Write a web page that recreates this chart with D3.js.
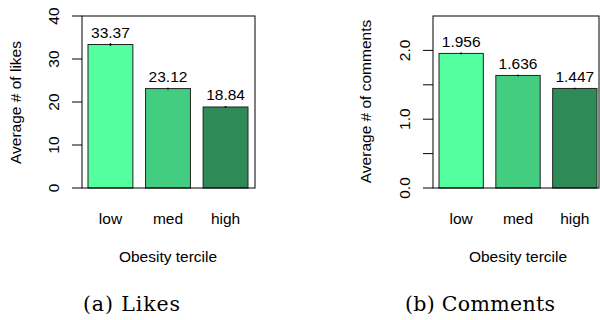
<!DOCTYPE html>
<html><head><meta charset="utf-8">
<script src="https://cdn.jsdelivr.net/npm/d3@7"></script>
<style>body{margin:0;background:#fff}svg{display:block}</style>
</head><body>
<svg id="c" width="600" height="320"></svg>
<script>
const categories = ["low", "med", "high"];
const likes = [33.37, 23.12, 18.84];
const likesErr = [0.3, 0.2, 0.2];
const comments = [1.956, 1.636, 1.447];
const commentsErr = [0.012, 0.01, 0.01];
const likesTicks = [0, 10, 20, 30, 40];
const commentsTicks = [0, 0.5, 1.0, 1.5, 2.0];
const commentsTickLabels = ["0.0", "", "1.0", "", "2.0"];
const colors = ["#54FF9F", "#43CD80", "#2E8B57"];

const svg = d3.select("#c");
const F = "'Liberation Sans', Arial, sans-serif";

function panel(o) {
  const g = svg.append("g");
  const x = d3.scaleBand().domain(categories).range([o.barL, o.barR]).paddingInner(0.22).paddingOuter(0);
  const y = d3.scaleLinear().domain(o.ydom).range([188, 16]);
  g.selectAll("rect.bar").data(o.values).join("rect")
    .attr("x", (d, i) => x(categories[i])).attr("width", x.bandwidth())
    .attr("y", d => y(d)).attr("height", d => y(0) - y(d))
    .attr("fill", (d, i) => colors[i]).attr("stroke", "#222").attr("stroke-width", 1);
  g.selectAll("line.err").data(o.values).join("line")
    .attr("x1", (d, i) => x(categories[i]) + x.bandwidth() / 2)
    .attr("x2", (d, i) => x(categories[i]) + x.bandwidth() / 2)
    .attr("y1", (d, i) => y(d - o.err[i])).attr("y2", (d, i) => y(d + o.err[i]))
    .attr("stroke", "#000").attr("stroke-width", 1.5);
  g.selectAll("text.val").data(o.values).join("text")
    .attr("x", (d, i) => x(categories[i]) + x.bandwidth() / 2)
    .attr("y", d => y(d) - 6.5)
    .attr("text-anchor", "middle").attr("font-family", F).attr("font-size", 15.5).attr("fill", "#000")
    .text((d, i) => o.fmt(d));
  g.append("rect").attr("x", o.boxL).attr("y", 16).attr("width", o.boxR - o.boxL).attr("height", 172)
    .attr("fill", "none").attr("stroke", "#000").attr("stroke-width", 1);
  g.selectAll("line.tk").data(o.ticks).join("line")
    .attr("x1", o.boxL - 10).attr("x2", o.boxL).attr("y1", d => y(d)).attr("y2", d => y(d))
    .attr("stroke", "#000").attr("stroke-width", 1);
  g.selectAll("text.tl").data(o.ticks).join("text")
    .attr("transform", d => `translate(${o.tickLabX},${y(d)}) rotate(-90)`)
    .attr("text-anchor", "middle").attr("font-family", F).attr("font-size", 15.5)
    .text((d, i) => o.tickLabels[i]);
  g.selectAll("text.cat").data(categories).join("text")
    .attr("x", d => x(d) + x.bandwidth() / 2).attr("y", 224)
    .attr("text-anchor", "middle").attr("font-family", F).attr("font-size", 15.5)
    .text(d => d);
  g.append("text").attr("x", (o.barL + o.barR) / 2).attr("y", 261.5)
    .attr("text-anchor", "middle").attr("font-family", F).attr("font-size", 15.5)
    .text("Obesity tercile");
  g.append("text").attr("transform", `translate(${o.yTitleX},${o.yTitleY}) rotate(-90)`)
    .attr("text-anchor", "middle").attr("font-family", F).attr("font-size", 15.5)
    .text(o.yTitle);
  g.append("text").attr("x", o.capX).attr("y", 311)
    .attr("font-family", "'DejaVu Serif', serif").attr("font-size", 20.5)
    .attr("textLength", o.capW).attr("lengthAdjust", "spacing")
    .text(o.caption);
}

panel({
  values: likes, err: likesErr, ydom: [0, 40], barL: 88, barR: 248, boxL: 82, boxR: 255,
  ticks: likesTicks, tickLabels: likesTicks.map(String), tickLabX: 59,
  fmt: d => d.toFixed(2), yTitle: "Average # of likes", yTitleX: 21, yTitleY: 102.5,
  caption: "(a) Likes", capX: 83, capW: 97
});
panel({
  values: comments, err: commentsErr, ydom: [0, 2.5], barL: 439, barR: 597, boxL: 433, boxR: 599,
  ticks: commentsTicks, tickLabels: commentsTickLabels, tickLabX: 410,
  fmt: d => d.toFixed(3), yTitle: "Average # of comments", yTitleX: 371, yTitleY: 101.5,
  caption: "(b) Comments", capX: 405, capW: 150
});
</script>
</body></html>
